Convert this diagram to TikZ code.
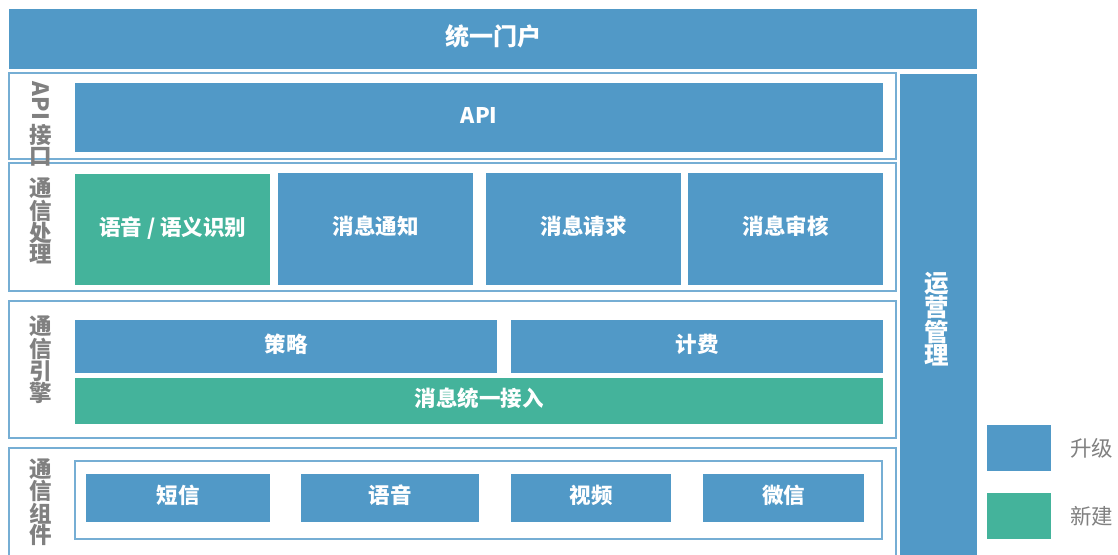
\documentclass[tikz,border=0pt]{standalone}
\usepackage{fontspec}
\usepackage{graphicx}
\setmainfont{Noto Sans CJK SC}
\definecolor{upblue}{RGB}{81,153,199}
\definecolor{newgreen}{RGB}{68,179,155}
\definecolor{framec}{RGB}{118,174,212}
\definecolor{labgray}{RGB}{128,128,128}
\tikzset{
  box/.style={fill=upblue, text=white, inner sep=0pt, anchor=north west,
    text height=16pt, text depth=5pt,
    font=\bfseries\fontsize{21.5}{21.5}\selectfont},
  gbox/.style={box, fill=newgreen},
  rowframe/.style={draw=framec, line width=1.3pt, fill=white},
  lab/.style={text=labgray, align=center, inner sep=0pt,
    font=\bfseries\fontsize{22.5}{21}\selectfont},
  legtext/.style={text=labgray, inner sep=0pt, anchor=west,
    font=\fontsize{21.5}{21.5}\selectfont},
}
\newcommand{\bx}[7]{% style, name, x1, y1, x2, y2, text
  \node[#1, minimum width={#5-#3}, minimum height={#6-#4}] (#2) at (#3,#4) {#7};}
\begin{document}
\begin{tikzpicture}[x=1pt,y=-1pt]
\useasboundingbox (0,0) rectangle (1118,554);
\clip (0,0) rectangle (1118,554);
% top bar
\bx{box,text height=18pt,text depth=6pt,font=\bfseries\fontsize{24}{24}\selectfont}{portal}{9}{9}{977}{69}{统一门户}
% right bar
\bx{box}{ops}{900}{74}{977}{560}{}
\node[text=white, align=center, inner sep=0pt, font=\bfseries\fontsize{24.5}{23}\selectfont] (opsl) at (937,319) {运\\营\\管\\理};
% row frames
\draw[rowframe] (9,73) rectangle (896,159);
\draw[rowframe] (9,163) rectangle (896,291);
\draw[rowframe] (9,301) rectangle (896,438);
\draw[rowframe] (9,448) rectangle (896,570);
% row labels
\node[lab] (l1) at (41,124) {\rotatebox{-90}{API}\\[3pt]接\\口};
\node[lab] (l2) at (41,221) {通\\信\\处\\理};
\node[lab] (l3) at (41,360) {通\\信\\引\\擎};
\node[lab] (l4) at (41,502) {通\\信\\组\\件};
% API
\bx{box}{api}{75}{83}{883}{152}{API}
% processing
\bx{gbox}{asr}{75}{174}{270}{285}{语音 / 语义识别}
\bx{box}{notify}{278}{173}{473}{285}{消息通知}
\bx{box}{request}{486}{173}{681}{285}{消息请求}
\bx{box}{audit}{688}{173}{883}{285}{消息审核}
% engine
\bx{box}{policy}{75}{320}{497}{373}{策略}
\bx{box}{billing}{511}{320}{883}{373}{计费}
\bx{gbox}{access}{75}{378}{883}{424}{消息统一接入}
% components
\draw[draw=framec, line width=1.2pt] (75,461) rectangle (882,539);
\bx{box}{sms}{86}{474}{270}{522}{短信}
\bx{box}{voice}{301}{474}{479}{522}{语音}
\bx{box}{video}{511}{474}{671}{522}{视频}
\bx{box}{wechat}{703}{474}{864}{522}{微信}
% legend
\bx{box}{legup}{987}{425}{1051}{471}{}
\bx{gbox}{legnew}{987}{493}{1051}{539}{}
\node[legtext] (legupt) at (1070,448) {升级};
\node[legtext] (legnewt) at (1070,516) {新建};
\end{tikzpicture}
\end{document}
